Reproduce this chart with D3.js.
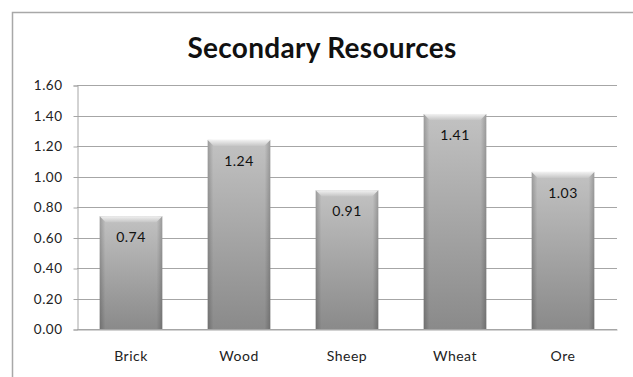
<!DOCTYPE html>
<html>
<head>
<meta charset="utf-8">
<script src="https://cdn.jsdelivr.net/npm/d3@7"></script>
<style>
  html, body { margin: 0; padding: 0; background: #ffffff; }
  svg { display: block; }
</style>
</head>
<body>
<svg id="chart" width="633" height="377"></svg>
<script>
const categories = ["Brick", "Wood", "Sheep", "Wheat", "Ore"];
const values = [0.74, 1.24, 0.91, 1.41, 1.03];
const yTicks = [0, 0.2, 0.4, 0.6, 0.8, 1.0, 1.2, 1.4, 1.6];
const title = "Secondary Resources";

const W = 633, H = 377;
const margin = { left: 77, right: 16, top: 85, bottom: 48 };
const font = "Lato, 'Open Sans', sans-serif";

const svg = d3.select("#chart");

// chart frame (top and left edges visible)
svg.append("path")
  .attr("d", `M12.5,${H} L12.5,12.5 L${W},12.5`)
  .attr("fill", "none")
  .attr("stroke", "#a8a8a8")
  .attr("stroke-width", 1.5);

const x = d3.scaleBand()
  .domain(categories)
  .range([margin.left, W - margin.right])
  .paddingInner(0.42)
  .paddingOuter(0.21);

const y = d3.scaleLinear()
  .domain([0, 1.6])
  .range([H - margin.bottom, margin.top]);

// gradients for the bevelled grey bars
const defs = svg.append("defs");
const vg = defs.append("linearGradient").attr("id", "barV")
  .attr("x1", 0).attr("y1", 0).attr("x2", 0).attr("y2", 1);
vg.append("stop").attr("offset", "0%").attr("stop-color", "#c2c2c2");
vg.append("stop").attr("offset", "100%").attr("stop-color", "#8a8a8a");

const hg = defs.append("linearGradient").attr("id", "barH")
  .attr("x1", 0).attr("y1", 0).attr("x2", 1).attr("y2", 0);
hg.append("stop").attr("offset", "0%").attr("stop-color", "#000").attr("stop-opacity", 0.2);
hg.append("stop").attr("offset", "9%").attr("stop-color", "#000").attr("stop-opacity", 0.0);
hg.append("stop").attr("offset", "91%").attr("stop-color", "#000").attr("stop-opacity", 0.0);
hg.append("stop").attr("offset", "100%").attr("stop-color", "#000").attr("stop-opacity", 0.2);

const tg = defs.append("linearGradient").attr("id", "barTop")
  .attr("x1", 0).attr("y1", 0).attr("x2", 0).attr("y2", 1);
tg.append("stop").attr("offset", "0%").attr("stop-color", "#f2f2f2");
tg.append("stop").attr("offset", "100%").attr("stop-color", "#c6c6c6");

// gridlines
const grid = svg.append("g");
grid.selectAll("line").data(yTicks).join("line")
  .attr("x1", margin.left).attr("x2", W - margin.right)
  .attr("y1", d => Math.round(y(d)) + 0.5).attr("y2", d => Math.round(y(d)) + 0.5)
  .attr("stroke", "#a6a6a6").attr("stroke-width", 1);

// y axis
const yAxis = d3.axisLeft(y).tickValues(yTicks).tickFormat(d3.format(".2f")).tickSize(4).tickPadding(11);
const ya = svg.append("g").attr("transform", `translate(${margin.left + 0.5},0.5)`).call(yAxis);
ya.select(".domain").attr("stroke", "#a6a6a6");
ya.selectAll(".tick line").attr("stroke", "#a6a6a6");
ya.selectAll("text").attr("font-family", font).attr("font-size", 13.5)
  .attr("letter-spacing", 0.5).attr("fill", "#222");

// x axis
const xAxis = d3.axisBottom(x).tickSize(0).tickPadding(22);
const xa = svg.append("g").attr("transform", `translate(0,${Math.round(y(0)) + 0.5})`).call(xAxis);
xa.select(".domain").attr("stroke", "#a6a6a6");
xa.selectAll("text").attr("font-family", font).attr("font-size", 14)
  .attr("letter-spacing", 0.5).attr("fill", "#222");

// bars
const bars = svg.append("g").selectAll("g").data(values).join("g");
const bw = x.bandwidth();
bars.append("rect")
  .attr("x", (d, i) => x(categories[i]))
  .attr("y", d => y(d))
  .attr("width", bw)
  .attr("height", d => y(0) - y(d))
  .attr("fill", "url(#barV)");
bars.append("rect")
  .attr("x", (d, i) => x(categories[i]))
  .attr("y", d => y(d))
  .attr("width", bw)
  .attr("height", d => y(0) - y(d))
  .attr("fill", "url(#barH)");
// top bevel
bars.append("path")
  .attr("d", (d, i) => {
    const x0 = x(categories[i]), y0 = y(d), b = 6;
    return `M${x0},${y0} L${x0 + bw},${y0} L${x0 + bw - b},${y0 + b} L${x0 + b},${y0 + b} Z`;
  })
  .attr("fill", "url(#barTop)");

// value labels
bars.append("text")
  .attr("x", (d, i) => x(categories[i]) + bw / 2)
  .attr("y", d => y(d) + 21)
  .attr("dy", "0.35em")
  .attr("text-anchor", "middle")
  .attr("font-family", font)
  .attr("font-size", 14)
  .attr("letter-spacing", 0.5)
  .attr("fill", "#111")
  .text(d => d3.format(".2f")(d));

// title
svg.append("text")
  .attr("x", 322).attr("y", 58)
  .attr("text-anchor", "middle")
  .attr("font-family", font)
  .attr("font-weight", "bold")
  .attr("font-size", 28)
  .attr("letter-spacing", 0.3)
  .attr("fill", "#111")
  .text(title);
</script>
</body>
</html>
